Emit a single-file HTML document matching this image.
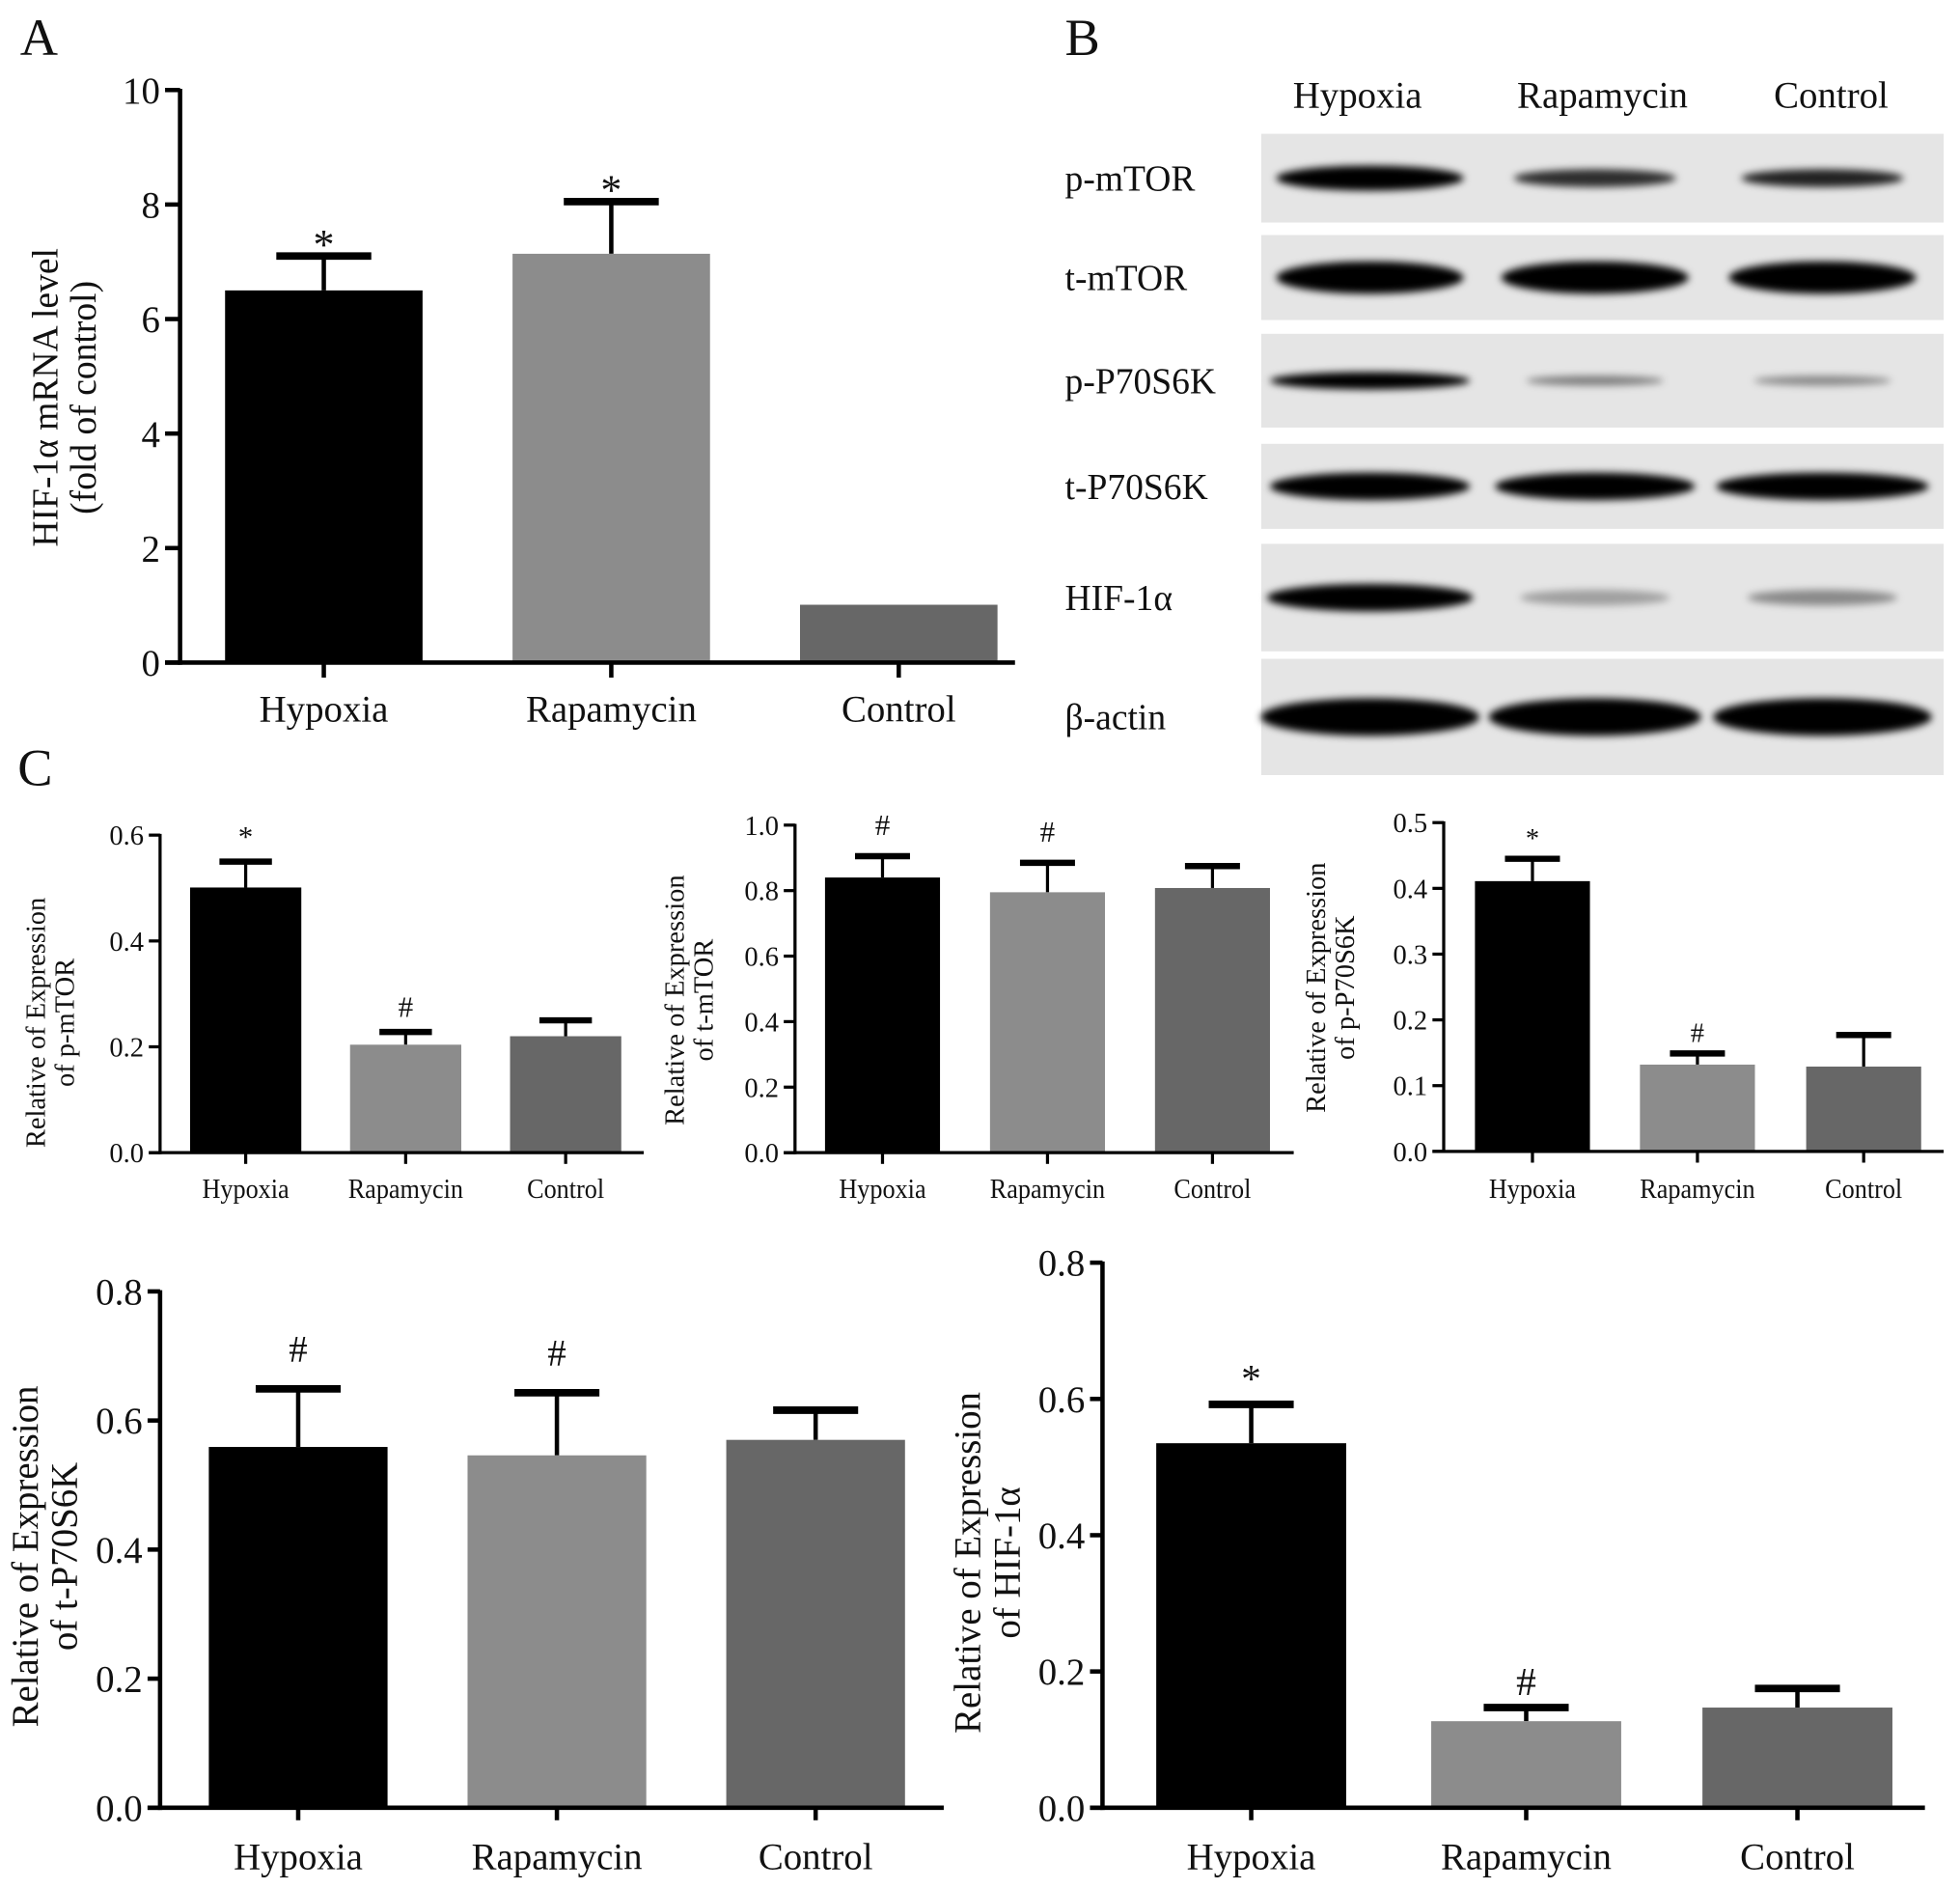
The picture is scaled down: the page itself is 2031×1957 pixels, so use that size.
<!DOCTYPE html>
<html><head><meta charset="utf-8"><style>
html,body{margin:0;padding:0;background:#fff}
svg{display:block}
text{font-family:"Liberation Serif",serif;fill:#111}
</style></head><body>
<svg id="fig" width="2031" height="1957" viewBox="0 0 1568 1511" xmlns="http://www.w3.org/2000/svg">
<defs>
<filter id="blur" x="-20%" y="-100%" width="140%" height="300%"><feGaussianBlur stdDeviation="3"/></filter>
</defs>
<text x="16" y="44" font-size="42">A</text>
<text x="852" y="44" font-size="42">B</text>
<text x="14" y="628" font-size="42">C</text>
<g id="blots"></g>
<g id="charts"></g>
</svg>
<script>
const NS="http://www.w3.org/2000/svg";
const svg=document.getElementById('fig');
const chartsG=document.getElementById('charts');
function mk(tag,attrs,parent){const e=document.createElementNS(NS,tag);for(const k in attrs)e.setAttribute(k,attrs[k]);(parent||svg).appendChild(e);return e;}

// ---------- data ----------
const categories=["Hypoxia","Rapamycin","Control"];
const colors=["#000000","#8c8c8c","#676767"];

const aValues=[6.5,7.14,1.01];
const aErrors=[7.1,8.05,1.01];
const aMarks=["*","*",""];
const aTicks=[0,2,4,6,8,10];

const pmtorValues=[0.501,0.204,0.22];
const pmtorErrors=[0.55,0.228,0.25];
const pmtorMarks=["*","#",""];
const pmtorTicks=[0.0,0.2,0.4,0.6];

const tmtorValues=[0.84,0.795,0.808];
const tmtorErrors=[0.905,0.885,0.875];
const tmtorMarks=["#","#",""];
const tmtorTicks=[0.0,0.2,0.4,0.6,0.8,1.0];

const pp70Values=[0.411,0.132,0.129];
const pp70Errors=[0.445,0.149,0.177];
const pp70Marks=["*","#",""];
const pp70Ticks=[0.0,0.1,0.2,0.3,0.4,0.5];

const tp70Values=[0.559,0.546,0.57];
const tp70Errors=[0.649,0.643,0.616];
const tp70Marks=["#","#",""];
const tp70Ticks=[0.0,0.2,0.4,0.6,0.8];

const hifValues=[0.535,0.127,0.147];
const hifErrors=[0.592,0.147,0.175];
const hifMarks=["*","#",""];
const hifTicks=[0.0,0.2,0.4,0.6,0.8];

// ---------- chart drawer ----------
function chart(o){
  const g=mk('g',{},chartsG);
  
  
  const ymax=o.ticks[o.ticks.length-1];
  const y=v=>o.y0-(v/ymax)*(o.y0-o.yTop);
  const xc=i=>o.bx[i]+o.bw/2;
  o.values.forEach((v,i)=>{
    if(o.errors[i]>v){
      const el=mk('line',{x1:xc(i),x2:xc(i),y1:y(v),y2:y(o.errors[i]),stroke:'#000','stroke-width':o.lw},g);
      
      
      const cap=mk('line',{x1:xc(i)-o.cw/2,x2:xc(i)+o.cw/2,y1:y(o.errors[i]),y2:y(o.errors[i]),stroke:'#000','stroke-width':o.cap},g);
      
      
    }
    const r=mk('rect',{x:o.bx[i],y:y(v),width:o.bw,height:o.y0-y(v),fill:colors[i]},g);
    
    
    if(o.marks[i]){
      const m=mk('text',{x:xc(i),y:y(o.errors[i])-o.markGap,'font-size':o.markFs,'text-anchor':'middle'},g);
      m.textContent=o.marks[i];
      
      
    }
    const tk=mk('line',{x1:xc(i),x2:xc(i),y1:o.y0,y2:o.y0+o.tl,stroke:'#000','stroke-width':o.lw},g);
    
    
    const lb=mk('text',{x:xc(i),y:o.labelY,'font-size':o.fs,'text-anchor':'middle'},g);
    lb.textContent=categories[i];
    if(o.sx){lb.setAttribute('transform',`translate(${xc(i)},0) scale(${o.sx},1) translate(${-xc(i)},0)`);}
    
    
  });
  const ya=mk('line',{x1:o.ax,x2:o.ax,y1:o.yTop-1,y2:o.y0+o.lw/2,stroke:'#000','stroke-width':o.lw},g);
  
  
  const xa=mk('line',{x1:o.ax-o.tl,x2:o.axEnd,y1:o.y0,y2:o.y0,stroke:'#000','stroke-width':o.lw},g);
  
  
  o.ticks.forEach(t=>{
    const tl=mk('line',{x1:o.ax-o.tl,x2:o.ax,y1:y(t),y2:y(t),stroke:'#000','stroke-width':o.lw},g);
    
    
    const tx=mk('text',{x:o.ax-o.tl-4,y:y(t)+o.fs*0.35,'font-size':o.fs,'text-anchor':'end'},g);
    tx.textContent=o.dec?t.toFixed(1):String(t);
    
    
  });
  const tt=mk('text',{transform:`translate(${o.tx},${o.ty}) rotate(-90)`,'font-size':o.tfs,'text-anchor':'middle'},g);
  
  
  o.title.forEach((line,i)=>{
    const ts=mk('tspan',{x:0,dy:i?o.tfs*1.05:0},tt);ts.textContent=line;
  });
}

chart({name:'chart-a-hif-mrna',values:aValues,errors:aErrors,marks:aMarks,ticks:aTicks,dec:false,
 ax:144,axEnd:812,y0:530,yTop:72,bx:[180,410,640],bw:158,cw:76,lw:3.5,cap:6,tl:12,fs:30,labelY:577,
 markFs:34,markGap:-2,tx:46,ty:318,tfs:29,title:["HIF-1α mRNA level","(fold of control)"]});

chart({name:'chart-p-mtor',values:pmtorValues,errors:pmtorErrors,marks:pmtorMarks,ticks:pmtorTicks,dec:true,
 ax:128,axEnd:515,y0:922,yTop:668,bx:[152,280,408],bw:89,cw:42,lw:2.5,cap:5,tl:9,fs:22,labelY:958,sx:0.92,
 markFs:24,markGap:12,tx:36,ty:818,tfs:22,title:["Relative of Expression","of p-mTOR"]});

chart({name:'chart-t-mtor',values:tmtorValues,errors:tmtorErrors,marks:tmtorMarks,ticks:tmtorTicks,dec:true,
 ax:636,axEnd:1035,y0:922,yTop:660,bx:[660,792,924],bw:92,cw:44,lw:2.5,cap:5,tl:9,fs:22,labelY:958,sx:0.92,
 markFs:24,markGap:17,tx:547,ty:800,tfs:22,title:["Relative of Expression","of t-mTOR"]});

chart({name:'chart-p-p70s6k',values:pp70Values,errors:pp70Errors,marks:pp70Marks,ticks:pp70Ticks,dec:true,
 ax:1155,axEnd:1555,y0:921,yTop:658,bx:[1180,1312,1445],bw:92,cw:44,lw:2.5,cap:5,tl:9,fs:22,labelY:958,sx:0.92,
 markFs:22,markGap:9,tx:1060,ty:790,tfs:22,title:["Relative of Expression","of p-P70S6K"]});

chart({name:'chart-t-p70s6k',values:tp70Values,errors:tp70Errors,marks:tp70Marks,ticks:tp70Ticks,dec:true,
 ax:128,axEnd:755,y0:1446,yTop:1033,bx:[167,374,581],bw:143,cw:68,lw:3.5,cap:6,tl:10,fs:30,labelY:1495,
 markFs:30,markGap:22,tx:30,ty:1245,tfs:30,title:["Relative of Expression","of t-P70S6K"]});

chart({name:'chart-hif-1a',values:hifValues,errors:hifErrors,marks:hifMarks,ticks:hifTicks,dec:true,
 ax:882,axEnd:1540,y0:1446,yTop:1010,bx:[925,1145,1362],bw:152,cw:68,lw:3.5,cap:6,tl:10,fs:30,labelY:1495,
 markFs:32,markGap:10,tx:784,ty:1250,tfs:30,title:["Relative of Expression","of HIF-1α"]});

// ---------- western blot ----------
const blotG=document.getElementById('blots');
const lanes=["Hypoxia","Rapamycin","Control"];
const laneX=[1086,1282,1465];
const rowNames=["p-mTOR","t-mTOR","p-P70S6K","t-P70S6K","HIF-1α","β-actin"];
const rowTop=[107,188,267,355,435,527];
const rowBot=[178,256,342,423,521,620];
const bandOpacity=[[1,0.8,0.85],[1,1,1],[1,0.45,0.4],[1,1,1],[1,0.3,0.4],[1,1,1]];
const bandHeight=[20,26,14,22,22,30];
const bandWidth=[[150,130,130],[150,150,150],[160,110,110],[160,160,170],[165,120,120],[175,170,175]];
lanes.forEach((l,i)=>{
  const t=mk('text',{x:laneX[i],y:86,'font-size':30,'text-anchor':'middle'},blotG);
  t.textContent=l;
  
  
});
rowNames.forEach((n,r)=>{
  const bg=mk('rect',{x:1009,y:rowTop[r],width:546,height:rowBot[r]-rowTop[r],fill:'#e5e5e5'},blotG);
  
  
  const cy=(rowTop[r]+rowBot[r])/2;
  const lb=mk('text',{x:852,y:cy+10,'font-size':29},blotG);
  lb.textContent=n;
  
  
  lanes.forEach((l,i)=>{
    const bx=[1096,1276,1458][i];
    const op=bandOpacity[r][i];
    const ry=op<0.5?bandHeight[r]/3.5:(op<0.9?bandHeight[r]/2.8:bandHeight[r]/2);
    const e=mk('ellipse',{cx:bx,cy:cy,rx:bandWidth[r][i]/2,ry:ry,fill:'#000','fill-opacity':op,filter:'url(#blur)'},blotG);
    
    
  });
});
</script>
</body></html>
